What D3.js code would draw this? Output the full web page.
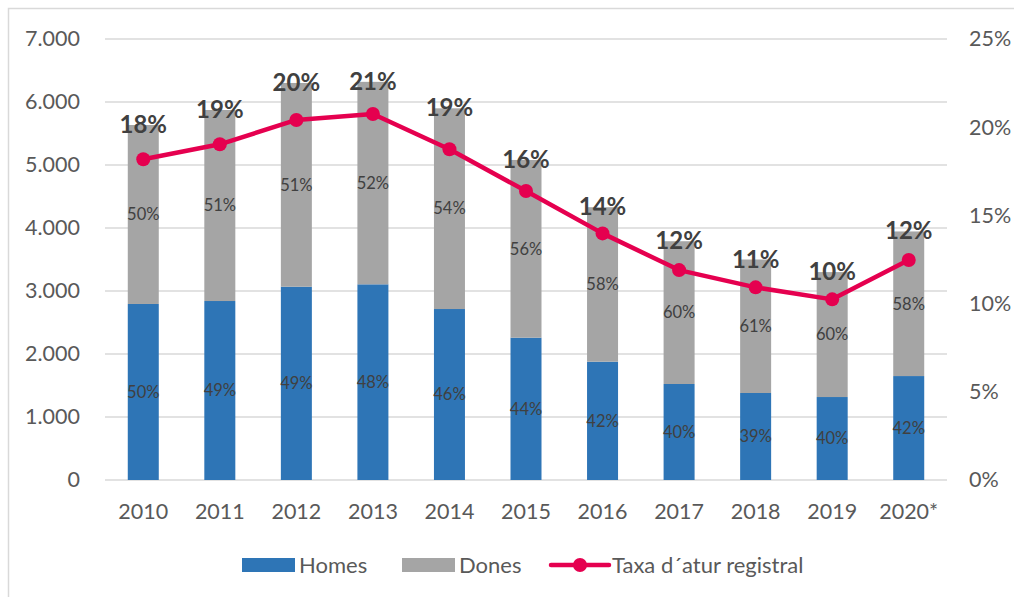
<!DOCTYPE html>
<html>
<head>
<meta charset="utf-8">
<script src="https://cdn.jsdelivr.net/npm/d3@7"></script>
<style>
  html, body { margin: 0; padding: 0; background: #fff; }
  svg { display: block; font-family: Lato, "Open Sans", sans-serif; }
</style>
</head>
<body>
<svg id="chart" width="1014" height="597"></svg>
<script>
const years = ["2010","2011","2012","2013","2014","2015","2016","2017","2018","2019","2020*"];
const homes = [2794, 2841, 3068, 3106, 2714, 2259, 1878, 1524, 1381, 1317, 1650];
const dones = [2841, 3032, 3234, 3214, 3186, 2821, 2452, 2266, 2119, 1983, 2295];
const taxa  = [0.1818, 0.1903, 0.2041, 0.2075, 0.1875, 0.1638, 0.1398, 0.1190, 0.1092, 0.1024, 0.1247];
const homesPct = ["50%","49%","49%","48%","46%","44%","42%","40%","39%","40%","42%"];
const donesPct = ["50%","51%","51%","52%","54%","56%","58%","60%","61%","60%","58%"];
const taxaLbl  = ["18%","19%","20%","21%","19%","16%","14%","12%","11%","10%","12%"];
const leftTicks  = [0, 1000, 2000, 3000, 4000, 5000, 6000, 7000];
const rightTicks = [0, 0.05, 0.10, 0.15, 0.20, 0.25];
const seriesNames = ["Homes", "Dones", "Taxa d´atur registral"];

const C_HOMES = "#2e75b6", C_DONES = "#a5a5a5", C_LINE = "#e5004f";
const C_TEXT = "#595959", C_LBL = "#404040", C_GRID = "#d9d9d9";

const svg = d3.select("#chart");
const L = 105, R = 947, T = 39, B = 480;

const x = d3.scaleBand().domain(years).range([L, R]).paddingInner(0.595).paddingOuter(0.2975);
const y = d3.scaleLinear().domain([0, 7000]).range([B, T]);
const yR = d3.scaleLinear().domain([0, 0.25]).range([B, T]);

const loc = d3.formatLocale({decimal: ",", thousands: ".", grouping: [3], currency: ["", "€"]});
const fmtL = loc.format(",");
const fmtR = d3.format(".0%");

// chart frame (partially visible)
svg.append("path").attr("d", "M8.5,597 V8.5 H1014").attr("fill", "none").attr("stroke", C_GRID).attr("stroke-width", 1.5);

// gridlines
svg.append("g").selectAll("line").data(leftTicks).join("line")
  .attr("x1", L).attr("x2", R)
  .attr("y1", d => y(d)).attr("y2", d => y(d))
  .attr("stroke", C_GRID).attr("stroke-width", 1.5);

// left axis
const axL = svg.append("g").attr("transform", `translate(${L},0)`)
  .call(d3.axisLeft(y).tickValues(leftTicks).tickFormat(fmtL).tickSize(0).tickPadding(25));
axL.select(".domain").remove();
axL.selectAll("text").attr("fill", C_TEXT).attr("font-size", 21.5).attr("font-family", "Lato");

// right axis
const axR = svg.append("g").attr("transform", `translate(${R},0)`)
  .call(d3.axisRight(yR).tickValues(rightTicks).tickFormat(fmtR).tickSize(0).tickPadding(22));
axR.select(".domain").remove();
axR.selectAll("text").attr("fill", C_TEXT).attr("font-size", 21.5).attr("font-family", "Lato");

// x axis
const axX = svg.append("g").attr("transform", `translate(0,${B})`)
  .call(d3.axisBottom(x).tickSize(0).tickPadding(24));
axX.select(".domain").remove();
axX.selectAll("text").attr("fill", C_TEXT).attr("font-size", 21.5).attr("font-family", "Lato");

// bars
const bars = svg.append("g");
bars.selectAll("rect.h").data(years).join("rect").attr("class", "h")
  .attr("x", d => x(d)).attr("width", x.bandwidth())
  .attr("y", (d, i) => y(homes[i])).attr("height", (d, i) => y(0) - y(homes[i]))
  .attr("fill", C_HOMES);
bars.selectAll("rect.d").data(years).join("rect").attr("class", "d")
  .attr("x", d => x(d)).attr("width", x.bandwidth())
  .attr("y", (d, i) => y(homes[i] + dones[i])).attr("height", (d, i) => y(homes[i]) - y(homes[i] + dones[i]))
  .attr("fill", C_DONES);

// inside labels
const lbl = svg.append("g").attr("font-family", "Lato").attr("font-size", 16.5).attr("fill", C_LBL).attr("text-anchor", "middle");
lbl.selectAll("text.h").data(years).join("text").attr("class", "h")
  .attr("x", d => x(d) + x.bandwidth() / 2)
  .attr("y", (d, i) => (y(0) + y(homes[i])) / 2).attr("dy", "0.35em")
  .text((d, i) => homesPct[i]);
lbl.selectAll("text.d").data(years).join("text").attr("class", "d")
  .attr("x", d => x(d) + x.bandwidth() / 2)
  .attr("y", (d, i) => (y(homes[i]) + y(homes[i] + dones[i])) / 2).attr("dy", "0.35em")
  .text((d, i) => donesPct[i]);

// line
const cx = d => x(d) + x.bandwidth() / 2;
svg.append("path").datum(years)
  .attr("d", d3.line().x(d => cx(d)).y((d, i) => yR(taxa[i])))
  .attr("fill", "none").attr("stroke", C_LINE).attr("stroke-width", 4.5).attr("stroke-linejoin", "round");
svg.append("g").selectAll("circle").data(years).join("circle")
  .attr("cx", d => cx(d)).attr("cy", (d, i) => yR(taxa[i])).attr("r", 7).attr("fill", C_LINE);

// rate labels at bar tops
svg.append("g").attr("font-family", "Lato").attr("font-weight", "bold").attr("font-size", 24)
  .attr("fill", C_LBL).attr("text-anchor", "middle")
  .selectAll("text").data(years).join("text")
  .attr("x", d => cx(d))
  .attr("y", (d, i) => y(homes[i] + dones[i]) + 8)
  .text((d, i) => taxaLbl[i]);

// legend
const lg = svg.append("g").attr("font-family", "Lato").attr("font-size", 22).attr("fill", C_TEXT);
const lgY = 565;
const items = [
  {name: seriesNames[0], type: "rect", color: C_HOMES, x0: 242, tx: 299},
  {name: seriesNames[1], type: "rect", color: C_DONES, x0: 402, tx: 459},
  {name: seriesNames[2], type: "line", color: C_LINE, x0: 551, tx: 612}
];
items.forEach(it => {
  if (it.type === "rect") {
    lg.append("rect").attr("x", it.x0).attr("y", lgY - 7).attr("width", 53).attr("height", 14).attr("fill", it.color);
  } else {
    lg.append("line").attr("x1", it.x0).attr("x2", it.x0 + 58).attr("y1", lgY).attr("y2", lgY)
      .attr("stroke", it.color).attr("stroke-width", 4.5).attr("stroke-linecap", "round");
    lg.append("circle").attr("cx", it.x0 + 29).attr("cy", lgY).attr("r", 7).attr("fill", it.color);
  }
  lg.append("text").attr("x", it.tx).attr("y", lgY).attr("dy", "0.35em").text(it.name);
});
</script>
</body>
</html>
